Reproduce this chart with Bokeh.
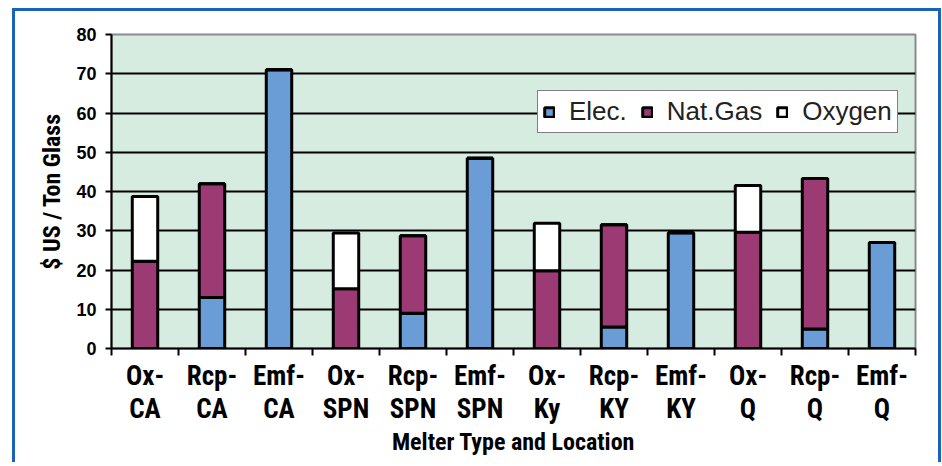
from bokeh.plotting import figure
from bokeh.models import ColumnDataSource, FixedTicker, Range1d
from bokeh.embed import file_html
from bokeh.resources import INLINE

categories = ["Ox-\nCA", "Rcp-\nCA", "Emf-\nCA", "Ox-\nSPN", "Rcp-\nSPN", "Emf-\nSPN",
              "Ox-\nKy", "Rcp-\nKY", "Emf-\nKY", "Ox-\nQ", "Rcp-\nQ", "Emf-\nQ"]
elec = [0, 13, 71, 0, 9, 48.5, 0, 5.5, 29.5, 0, 5, 27]
nat_gas = [22.2, 29, 0, 15.2, 19.7, 0, 19.8, 26, 0, 29.6, 38.3, 0]
oxygen = [16.5, 0, 0, 14.2, 0, 0, 12.1, 0, 0, 11.9, 0, 0]
series_names = ["Elec.", "Nat.Gas", "Oxygen"]
series_colors = ["#6a9cd6", "#9c3a74", "#ffffff"]
y_ticks = [0, 10, 20, 30, 40, 50, 60, 70, 80]

pos = list(range(len(categories)))
source = ColumnDataSource(dict(x=pos, elec=elec, gas=nat_gas, oxy=oxygen))

p = figure(frame_width=804, frame_height=314,
           min_border_left=96, min_border_right=23, min_border_top=23, min_border_bottom=114,
           x_range=Range1d(-0.5, len(categories) - 0.5), y_range=Range1d(0, 80),
           output_backend="svg", toolbar_location=None)
p.margin = (8, 0, 0, 12)
p.styles = {"border-left": "3px solid #1964b9", "border-top": "3px solid #1964b9",
            "border-right": "3px solid #1964b9"}
p.background_fill_color = "#d7ece0"
p.border_fill_color = "white"
p.outline_line_color = "#8a8a8a"
p.outline_line_width = 2

p.vbar_stack(["elec", "gas", "oxy"], x="x", width=0.38, source=source,
             color=series_colors, line_color="black", line_width=3,
             legend_label=series_names)

# axes
p.xaxis.ticker = FixedTicker(ticks=pos, minor_ticks=[i - 0.5 for i in range(len(categories) + 1)])
p.xaxis.major_label_overrides = {i: c for i, c in enumerate(categories)}
p.xaxis.major_tick_line_color = None
p.xaxis.major_tick_out = 0
p.xaxis.minor_tick_line_color = "black"
p.xaxis.minor_tick_line_width = 2
p.xaxis.minor_tick_out = 7
p.xaxis.minor_tick_in = 0
p.xaxis.axis_line_color = "black"
p.xaxis.axis_line_width = 2
p.xaxis.major_label_text_font = "Roboto Condensed"
p.xaxis.major_label_text_font_style = "bold"
p.xaxis.major_label_text_font_size = "27px"
p.xaxis.major_label_text_color = "black"
p.xaxis.major_label_text_line_height = 1.05
p.xaxis.major_label_standoff = 4
p.xaxis.axis_label = "Melter Type and Location"
p.xaxis.axis_label_text_font = "Roboto Condensed"
p.xaxis.axis_label_text_font_style = "bold"
p.xaxis.axis_label_text_font_size = "24px"
p.xaxis.axis_label_text_color = "black"
p.xaxis.axis_label_standoff = 0

p.yaxis.ticker = FixedTicker(ticks=y_ticks)
p.yaxis.minor_tick_line_color = None
p.yaxis.major_tick_out = 6
p.yaxis.major_tick_in = 0
p.yaxis.major_tick_line_width = 2
p.yaxis.axis_line_color = "black"
p.yaxis.axis_line_width = 2
p.yaxis.major_label_text_font = "Liberation Sans"
p.yaxis.major_label_text_font_style = "bold"
p.yaxis.major_label_text_font_size = "18px"
p.yaxis.major_label_text_color = "black"
p.yaxis.major_label_standoff = 9
p.yaxis.axis_label = "$ US / Ton Glass"
p.yaxis.axis_label_text_font = "Roboto Condensed"
p.yaxis.axis_label_text_font_style = "bold"
p.yaxis.axis_label_text_font_size = "24px"
p.yaxis.axis_label_text_color = "black"
p.yaxis.axis_label_standoff = 7

p.xgrid.grid_line_color = None
p.ygrid.ticker = FixedTicker(ticks=y_ticks[1:-1])
p.ygrid.grid_line_color = "black"
p.ygrid.grid_line_width = 2

leg = p.legend[0]
leg.orientation = "horizontal"
leg.location = (426, 215)
leg.border_line_color = "black"
leg.border_line_width = 1.5
leg.background_fill_color = "white"
leg.background_fill_alpha = 1
leg.label_text_font = "Liberation Sans"
leg.label_text_font_size = "26px"
leg.label_text_color = "#222222"
leg.glyph_width = 12
leg.glyph_height = 12
leg.label_standoff = 14
leg.spacing = 14
leg.padding = 5
leg.margin = 0

open("out.html", "w").write(file_html(p, INLINE))
